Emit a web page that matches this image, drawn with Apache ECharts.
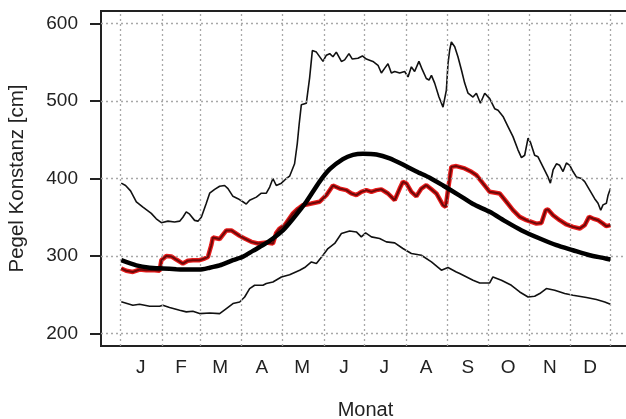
<!DOCTYPE html>
<html>
<head>
<meta charset="utf-8">
<script src="https://cdn.jsdelivr.net/npm/echarts@6/dist/echarts.min.js"></script>
<style>
  html, body { margin: 0; padding: 0; background: #fff; }
  #chart { width: 626px; height: 419px; }
</style>
</head>
<body>
<div id="chart"></div>
<script>
// Day-of-year axis: month boundaries (grid lines) and mid-month label positions
const monthStarts = [1, 32, 60, 91, 121, 152, 182, 213, 244, 274, 305, 335, 365];
const monthMids = [16, 46, 75, 106, 136, 167, 197, 228, 259, 289, 320, 350];
const monthLabels = ['J', 'F', 'M', 'A', 'M', 'J', 'J', 'A', 'S', 'O', 'N', 'D'];
const yTicks = [200, 300, 400, 500, 600];

// Maximum water level per day
const maxDays = [1.5, 4.7, 8.4, 12.7, 17.6, 23.8, 27.5, 31.3, 36.2, 41.1, 44.9, 47.3, 49.8, 52.3, 56, 58.5, 61, 64.7, 67.2, 70.9, 74.6, 78.3, 80.8, 84.5, 88.2, 91.9, 94.4, 96.9, 101.9, 105.6, 109.3, 111.8, 114.2, 115.5, 116.7, 120.5, 124.2, 126.6, 130.3, 132.3, 133.7, 135.3, 139, 141.5, 143.5, 146.5, 151.4, 153.9, 156.4, 158.8, 161.3, 165.1, 167.5, 170.7, 173.2, 177.4, 180.7, 183.6, 188.5, 192.3, 194.8, 197.2, 199.7, 202.2, 204.7, 208.4, 212.1, 214.6, 217.1, 219.5, 222.7, 225.3, 228.2, 230.2, 232, 234.4, 237.6, 240.6, 243.1, 244.3, 245.6, 246.8, 249.3, 251.7, 254.3, 256.7, 259.2, 262.9, 265.4, 268.4, 271.6, 275.3, 279, 281.5, 285.2, 288.9, 292.6, 296.3, 298.9, 301.3, 303.8, 305.5, 308.7, 311.2, 314.9, 318.6, 320.4, 322.4, 324.9, 327.3, 329.8, 332.3, 334.8, 337.2, 339.7, 343.5, 345.9, 349.6, 353.3, 355.8, 357.8, 359.5, 362, 363.2, 365];
const maxLevel = [394, 391, 384, 370, 363, 355, 348, 343, 345, 344, 345, 350, 357, 354, 346, 345, 350, 368, 381, 386, 390, 391, 387, 377, 374, 370, 367, 372, 376, 381, 381, 389, 400, 402, 391, 394, 400, 403, 419, 445, 470, 495, 497, 530, 565, 563, 551, 559, 561, 557, 563, 551, 553, 561, 554, 555, 558, 554, 551, 546, 536, 542, 548, 536, 538, 536, 538, 531, 544, 538, 551, 540, 529, 527, 533, 523, 505, 492, 514, 548, 566, 576, 570, 557, 540, 523, 510, 505, 510, 497, 510, 503, 490, 488, 480, 467, 454, 437, 427, 430, 452, 447, 430, 428, 415, 402, 394, 411, 419, 417, 409, 420, 417, 409, 402, 400, 396, 385, 374, 368, 359, 366, 368, 378, 387];

// Minimum water level per day
const minDays = [1.5, 10.1, 15.1, 22.6, 30, 32.4, 37.4, 44.9, 49.8, 54.7, 59.7, 67.2, 74.6, 79.6, 84.5, 89.5, 93.2, 96.9, 100.6, 106.8, 109.3, 114.2, 120.5, 126.6, 134.1, 137.8, 142.8, 146.5, 151.4, 155.1, 160.1, 165.1, 171.2, 176.2, 179.9, 183.1, 187.4, 193.5, 198.5, 204.7, 210.8, 217.1, 224.5, 232, 239.4, 244.3, 250.5, 253, 262.9, 267.9, 275.3, 277.7, 284, 291.4, 297.6, 303.8, 308.7, 312.5, 317.4, 323.6, 331, 337.2, 347.2, 354.6, 360.8, 365];
const minLevel = [241, 236.5, 237.8, 235.2, 235.2, 236.5, 233.6, 230, 228, 228.8, 225.8, 226.6, 225.8, 232.3, 238.7, 240.8, 247.2, 258, 262.3, 262.3, 264.5, 266.6, 273, 276, 281.7, 285.2, 292.4, 290.3, 301, 309.7, 316.2, 329, 332.4, 331.1, 324.7, 329.8, 324.7, 322.6, 318.3, 317, 309.7, 303.3, 301, 292.4, 281.7, 285.2, 279.5, 277.4, 268.8, 265.3, 265.3, 273, 268.8, 262.3, 253.7, 247.2, 248.1, 251.6, 258.1, 255.9, 251.6, 249.4, 246.5, 243.9, 240.8, 237.8];

// Smoothed mean seasonal course
const meanDays = [1.5, 12.7, 22.6, 32.4, 42.4, 52.3, 59.7, 67.2, 74.6, 84.5, 91.9, 99.3, 106.8, 114.2, 121.6, 129.1, 139, 148.9, 156.4, 166.2, 173.7, 181.1, 191.1, 201, 210.8, 220.8, 230.7, 240.6, 253, 262.9, 275.3, 287.7, 299.1, 312.5, 324.9, 337.2, 349.6, 359.5, 365];
const meanLevel = [294.6, 288, 285, 284, 283, 282.5, 282.5, 285, 288, 294.6, 299, 306.6, 314, 322.6, 333, 348, 370, 396, 412, 425, 430.5, 432, 431, 426, 418, 409, 401, 391, 378, 367, 357, 344, 333, 322.6, 314, 307.5, 301, 297.6, 295.5];

// Current year
const yearDays = [1.5, 5.2, 10.1, 15.1, 20.1, 26.3, 30, 31.3, 35, 38.7, 42.4, 47.3, 51, 54.7, 59.7, 63.4, 65.9, 68.4, 69.6, 74.6, 79.6, 83.3, 89.5, 93.2, 98.2, 103.1, 109.3, 114.2, 116.7, 119.2, 122.9, 129.1, 132.8, 136.5, 142.8, 148.9, 153.9, 158.8, 163.8, 168.8, 172.5, 176.2, 179.9, 183.6, 187.4, 191.1, 194.8, 199.7, 204.7, 208.4, 210.8, 213.4, 217.1, 220.8, 224.5, 228.2, 232, 235.7, 240.6, 242.6, 244.3, 246.8, 250.5, 256.7, 261.7, 265.4, 270.3, 275.3, 282.7, 287.7, 292.6, 297.6, 302.6, 306.3, 310, 313.7, 316.9, 318.6, 322.4, 327.3, 332.3, 337.2, 342.2, 345.9, 349.1, 352.1, 355.8, 359.5, 362, 365];
const yearLevel = [284, 281, 279.5, 282.6, 281.7, 281.7, 281, 294.6, 300, 299.5, 295.5, 290.3, 294, 294.6, 294.6, 296.8, 298.9, 314, 324, 322, 333, 333, 326, 322.6, 318.3, 316.2, 317.5, 316.2, 330, 335.5, 339.8, 355, 361, 365.6, 367.8, 370, 378.5, 391, 387, 385, 380.7, 378.5, 382.8, 385, 382.8, 385, 386, 380.7, 372, 387, 395.7, 393.6, 382.8, 377, 387, 391.4, 386, 380.7, 365.6, 363.4, 385, 415, 416, 413, 408.6, 404.3, 393.6, 382.8, 380.7, 370, 359.2, 350.5, 346.2, 344, 341.8, 342.7, 359.2, 360, 352.7, 346.2, 340.7, 337.6, 335.5, 339.8, 350.5, 348.4, 346.2, 341.8, 338.5, 339.8];

const zip = (xs, ys) => xs.map((x, i) => [x, ys[i]]);

const font = 'Liberation Sans, Arial, Helvetica, sans-serif';
const textColor = '#222';

const chart = echarts.init(document.getElementById('chart'), null, { renderer: 'canvas' });

const gridLineStyle = { type: [2, 3], color: '#a8a8a8', width: 1.3 };

chart.setOption({
  animation: false,
  backgroundColor: '#fff',
  grid: {
    left: 101, top: 11, width: 529, height: 335,
    outerBoundsMode: 'none', containLabel: false,
    show: true, borderColor: '#222', borderWidth: 2, backgroundColor: 'transparent'
  },
  xAxis: {
    type: 'value',
    min: -13.56, max: 379.56,
    name: 'Monat', nameLocation: 'middle', nameGap: 54,
    nameTextStyle: { fontFamily: font, fontSize: 20, color: textColor },
    axisLine: { show: true, onZero: false, lineStyle: { color: '#222', width: 2 } },
    axisTick: { show: false },
    splitLine: { show: false },
    axisLabel: {
      customValues: monthMids,
      margin: 12,
      fontFamily: font, fontSize: 19, color: textColor,
      formatter: v => monthLabels[monthMids.indexOf(v)] || ''
    }
  },
  yAxis: {
    type: 'value',
    min: 184, max: 616,
    name: 'Pegel Konstanz [cm]', nameLocation: 'middle', nameGap: 73,
    nameTextStyle: { fontFamily: font, fontSize: 20.5, color: textColor },
    axisLine: { show: true, onZero: false, lineStyle: { color: '#222', width: 2 } },
    axisTick: { show: true, inside: false, customValues: yTicks, length: 11, lineStyle: { color: '#222', width: 2 } },
    splitLine: { show: false },
    axisLabel: {
      customValues: yTicks,
      margin: 23,
      fontFamily: font, fontSize: 19, color: textColor
    }
  },
  series: [
    {
      // dotted reference grid
      type: 'line', data: [], silent: true, z: 1,
      markLine: {
        silent: true, symbol: 'none', animation: false,
        label: { show: false },
        lineStyle: gridLineStyle,
        emphasis: { disabled: true },
        data: monthStarts.map(d => ({ xAxis: d })).concat(yTicks.map(v => ({ yAxis: v })))
      }
    },
    {
      name: 'Maximum', type: 'line', data: zip(maxDays, maxLevel), showSymbol: false, z: 3,
      lineStyle: { color: '#111', width: 1.6 }
    },
    {
      name: 'Minimum', type: 'line', data: zip(minDays, minLevel), showSymbol: false, z: 3,
      lineStyle: { color: '#111', width: 1.6 }
    },
    {
      name: 'Jahr', type: 'line', data: zip(yearDays, yearLevel), showSymbol: false, z: 4,
      lineStyle: { color: '#e81c1c', width: 4.5 }
    },
    {
      name: 'Jahr', type: 'line', data: zip(yearDays, yearLevel), showSymbol: false, z: 5,
      lineStyle: { color: '#6e0808', width: 2 }
    },
    {
      name: 'Mittel', type: 'line', data: zip(meanDays, meanLevel), showSymbol: false, z: 6,
      smooth: 0.2,
      lineStyle: { color: '#000', width: 4.5 }
    }
  ]
});
</script>
</body>
</html>
